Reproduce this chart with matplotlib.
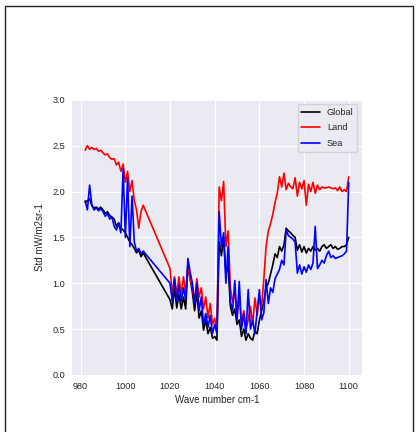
import numpy as np
import matplotlib
matplotlib.use("Agg")
import matplotlib.pyplot as plt
from matplotlib.patches import Rectangle

# wave numbers (cm-1), gap between 1008 and 1020 in the source data
wn = [982, 983, 984, 985, 986, 987, 988, 989, 990, 991, 992, 993, 994, 995,
      996, 997, 998, 999, 1000, 1001, 1002, 1003, 1004, 1005, 1006, 1007, 1008,
      1020, 1021, 1022, 1023, 1024, 1025, 1026, 1027, 1028, 1029, 1030,
      1031, 1032, 1033, 1034, 1035, 1036, 1037, 1038, 1039, 1040,
      1041, 1042, 1043, 1044, 1045, 1046, 1047, 1048, 1049, 1050,
      1051, 1052, 1053, 1054, 1055, 1056, 1057, 1058, 1059, 1060,
      1061, 1062, 1063, 1064, 1065, 1066, 1067, 1068, 1069, 1070,
      1071, 1072, 1073, 1074, 1075, 1076, 1077, 1078, 1079, 1080,
      1081, 1082, 1083, 1084, 1085, 1086, 1087, 1088, 1089, 1090,
      1091, 1092, 1093, 1094, 1095, 1096, 1097, 1098, 1099, 1100]

std_global = [1.88, 1.90, 1.92, 1.85, 1.82, 1.83, 1.81, 1.83, 1.80, 1.76, 1.78, 1.74, 1.72, 1.70,
              1.62, 1.66, 1.60, 1.58, 1.55, 1.50, 1.45, 1.42, 1.38, 1.33, 1.36, 1.29, 1.33,
              0.82, 0.72, 0.95, 0.73, 0.88, 0.72, 0.85, 0.72, 1.20, 1.05, 0.90,
              0.70, 0.90, 0.62, 0.70, 0.49, 0.60, 0.45, 0.52, 0.40, 0.42,
              0.38, 1.45, 1.30, 1.50, 1.10, 1.20, 0.75, 0.65, 0.72, 0.55,
              0.60, 0.42, 0.50, 0.38, 0.45, 0.40, 0.38, 0.48, 0.45, 0.60,
              0.70, 0.80, 0.95, 1.00, 1.10, 1.20, 1.32, 1.28, 1.40, 1.35,
              1.42, 1.60, 1.57, 1.55, 1.52, 1.50, 1.36, 1.42, 1.34, 1.40,
              1.33, 1.38, 1.35, 1.40, 1.36, 1.38, 1.35, 1.40, 1.42, 1.38,
              1.40, 1.42, 1.38, 1.40, 1.37, 1.38, 1.40, 1.40, 1.42, 1.50]

std_land = [2.45, 2.50, 2.46, 2.48, 2.46, 2.47, 2.44, 2.45, 2.42, 2.40, 2.41, 2.37, 2.35, 2.36,
            2.29, 2.32, 2.22, 2.30, 2.10, 2.22, 2.00, 2.12, 1.90, 1.80, 1.60, 1.78, 1.85,
            1.16, 0.88, 1.07, 0.87, 1.07, 0.88, 1.07, 0.90, 1.16, 1.05, 0.95,
            0.80, 1.05, 0.85, 0.95, 0.72, 0.85, 0.62, 0.78, 0.55, 0.62,
            0.45, 2.05, 1.90, 2.11, 1.40, 1.57, 0.95, 0.80, 0.90, 0.65,
            0.85, 0.55, 0.70, 0.50, 0.60, 0.75, 0.55, 0.84, 0.65, 0.85,
            0.75, 1.05, 1.40, 1.57, 1.65, 1.75, 1.88, 1.98, 2.16, 2.05,
            2.20, 2.02, 2.09, 2.05, 2.03, 2.15, 1.95, 2.10, 2.03, 2.12,
            1.85, 2.08, 2.00, 2.10, 1.98, 2.07, 2.02, 2.05, 2.04, 2.04,
            2.05, 2.04, 2.03, 2.04, 2.01, 2.05, 2.00, 2.02, 2.00, 2.16]

std_sea = [1.90, 1.80, 2.07, 1.85, 1.80, 1.82, 1.79, 1.81, 1.78, 1.73, 1.76, 1.70, 1.72, 1.62,
           1.58, 1.65, 1.55, 2.25, 1.50, 2.15, 1.40, 1.95, 1.45, 1.35, 1.38, 1.32, 1.35,
           1.00, 0.80, 1.05, 0.80, 0.98, 0.80, 0.95, 0.82, 1.27, 1.12, 1.00,
           0.78, 1.00, 0.70, 0.85, 0.55, 0.67, 0.52, 0.65, 0.45, 0.55,
           0.45, 1.78, 1.40, 1.55, 1.00, 1.40, 0.80, 0.70, 1.03, 0.60,
           1.02, 0.50, 0.67, 0.45, 0.93, 0.50, 0.60, 0.45, 0.70, 0.93,
           0.60, 0.68, 1.04, 0.78, 0.95, 0.90, 1.05, 1.10, 1.15, 1.25,
           1.20, 1.58, 1.52, 1.50, 1.48, 1.45, 1.11, 1.20, 1.10, 1.18,
           1.12, 1.20, 1.15, 1.22, 1.62, 1.16, 1.20, 1.25, 1.22, 1.30,
           1.35, 1.28, 1.30, 1.27, 1.28, 1.29, 1.30, 1.32, 1.35, 2.10]

plt.style.use('seaborn-v0_8-darkgrid')

fig = plt.figure(figsize=(4.16, 4.32), dpi=100)
ax = fig.add_axes([0.173, 0.132, 0.697, 0.637])

ax.plot(wn, std_global, color='black', lw=1.2, label='Global')
ax.plot(wn, std_land, color='red', lw=1.2, label='Land')
ax.plot(wn, std_sea, color='blue', lw=1.2, label='Sea')

ax.set_ylim(0, 3.0)
ax.set_xticks([980, 1000, 1020, 1040, 1060, 1080, 1100])
ax.tick_params(labelsize=6.6, pad=5)
ax.set_xlabel("Wave number cm-1", fontsize=7, labelpad=3)
ax.set_ylabel("Std mW/m2sr-1", fontsize=7, labelpad=5)
ax.legend(loc='upper right', fontsize=6.6, frameon=True, labelspacing=0.7)

# outer frame around the figure
fig.patches.append(Rectangle((5 / 416, -0.1), 408 / 416, 1.1 - 6.5 / 432,
                             transform=fig.transFigure, fill=False,
                             edgecolor='#222222', lw=1.0))

fig.savefig("out.png", dpi=100)
